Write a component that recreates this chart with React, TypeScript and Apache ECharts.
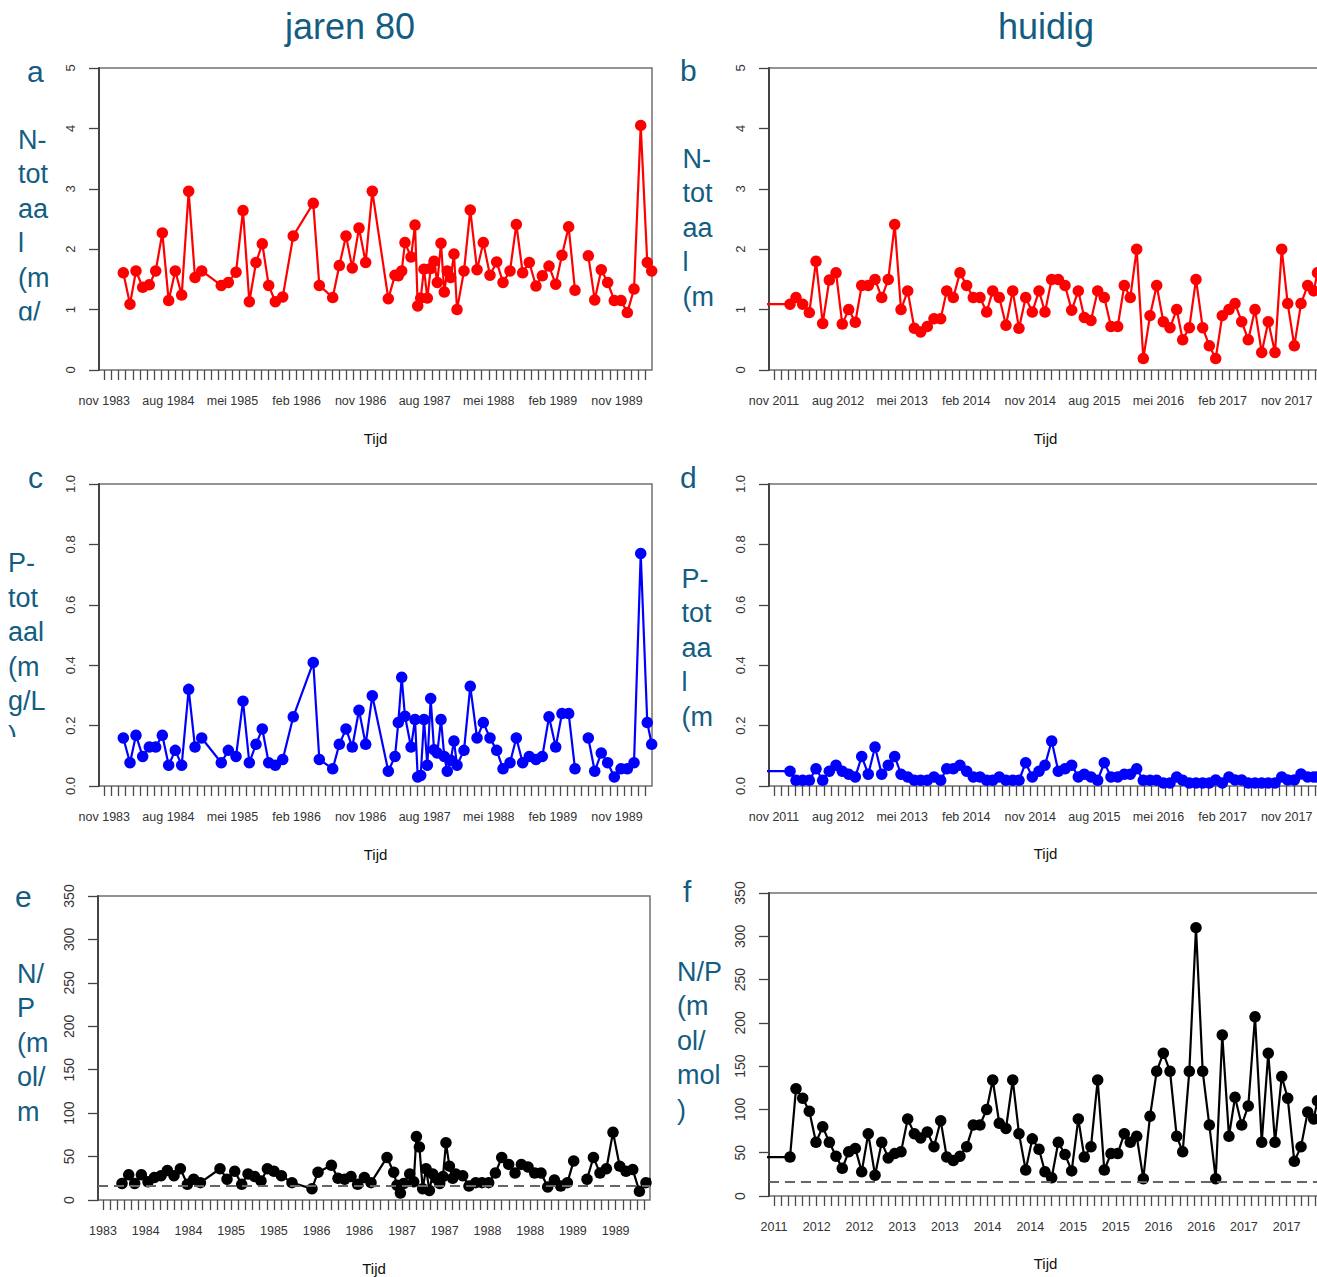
import React, { useEffect, useRef } from "react";
import * as echarts from "echarts";

// ---- Data ----
// Sampling times, in months since November of the first year shown (Nov 1983 / Nov 2011)
const tLeft = [
  2.67, 3.61, 4.45, 5.39, 6.32, 7.22, 8.15, 9.04, 9.97, 10.87,
  11.85, 12.74, 13.68, 16.43, 17.42, 18.5, 19.48, 20.37, 21.31, 22.19,
  23.09, 24.02, 25.06, 26.54, 29.35, 30.2, 32.08, 33.01, 33.95, 34.83,
  35.77, 36.71, 37.64, 39.89, 40.83, 41.29, 41.77, 42.23, 43.08, 43.64,
  44.02, 44.44, 44.9, 45.37, 45.84, 46.31, 46.77, 47.29, 47.75, 48.17,
  48.65, 49.11, 49.54, 50.52, 51.4, 52.35, 53.23, 54.17, 55.11, 56.0,
  56.98, 57.87, 58.76, 59.69, 60.63, 61.52, 62.46, 63.4, 64.28, 65.22,
  66.11, 67.05, 67.98, 68.88, 69.8, 70.7, 71.63, 72.57, 73.46, 74.4, 75.34, 76.26, 76.88,
];
// N-totaal (mg/L), jaren 80 (null = missing sample)
const nTot80 = [
  1.61, 1.09, 1.64, 1.37, 1.41, 1.64, 2.27, 1.15, 1.64, 1.24,
  2.96, 1.53, 1.64, 1.4, 1.45, 1.62, 2.64, 1.13, 1.78, 2.09,
  1.4, 1.13, 1.21, 2.22, 2.76, 1.4, 1.2, 1.73, 2.22, 1.69,
  2.35, 1.78, 2.96, 1.18, 1.57, 1.56, 1.64, 2.11, 1.87, 2.4,
  1.06, 1.19, 1.67, 1.19, 1.68, 1.8, 1.45, 2.1, 1.29, 1.64,
  1.53, 1.92, 1.0, 1.64, 2.65, 1.66, 2.11, 1.57, 1.79, 1.45,
  1.64, 2.41, 1.61, 1.78, 1.39, 1.56, 1.72, 1.42, 1.9, 2.37,
  1.32, null, 1.89, 1.16, 1.66, 1.45, 1.15, 1.15, 0.95, 1.34, 4.05, 1.78, 1.64,
];
// P-totaal (mg/L), jaren 80
const pTot80 = [
  0.159, 0.077, 0.168, 0.098, 0.129, 0.129, 0.168, 0.069, 0.118, 0.069,
  0.32, 0.129, 0.159, 0.077, 0.118, 0.098, 0.281, 0.077, 0.138, 0.189,
  0.077, 0.069, 0.088, 0.229, 0.409, 0.088, 0.057, 0.138, 0.189, 0.129,
  0.251, 0.138, 0.299, 0.049, 0.098, 0.21, 0.36, 0.231, 0.129, 0.22,
  0.03, 0.035, 0.22, 0.069, 0.29, 0.12, 0.109, 0.22, 0.098, 0.049,
  0.085, 0.149, 0.069, 0.118, 0.33, 0.159, 0.21, 0.159, 0.118, 0.057,
  0.077, 0.159, 0.077, 0.098, 0.088, 0.098, 0.229, 0.129, 0.24, 0.24,
  0.057, null, 0.159, 0.049, 0.109, 0.077, 0.03, 0.057, 0.057, 0.077, 0.77, 0.21, 0.138,
];
// N/P (mol/mol), jaren 80
const np80 = [
  19, 29, 19, 29, 21, 26, 28, 34, 28, 36,
  18, 24, 20, 36, 24, 33, 18, 30, 27, 22,
  36, 33, 28, 20, 13, 32, 40, 25, 24, 27,
  18, 26, 20, 49, 32, 17, 8, 19, 30, 21,
  73, 61, 13, 36, 11, 30, 25, 19, 27, 66,
  39, 25, 30, 28, 16, 20, 20, 20, 31, 49,
  41, 31, 41, 38, 31, 31, 15, 23, 16, 20,
  45, null, 24, 49, 31, 36, 78, 39, 33, 35, 10, 20, 25,
];

const tNow = [
  -3, 2.25, 3.09, 4.03, 4.96, 5.9, 6.84, 7.77, 8.71, 9.59, 10.49,
  11.42, 12.32, 13.24, 14.19, 15.13, 16.05, 16.95, 17.84, 18.78, 19.71,
  20.6, 21.53, 22.47, 23.41, 24.26, 25.18, 26.12, 27.06, 27.99, 28.93,
  29.87, 30.72, 31.64, 32.58, 33.53, 34.41, 35.35, 36.28, 37.22, 38.06,
  39.0, 39.93, 40.87, 41.81, 42.74, 43.58, 44.52, 45.46, 46.39, 47.33,
  48.27, 49.2, 50.04, 50.94, 51.87, 52.81, 53.75, 54.68, 55.62, 56.56,
  57.4, 58.33, 59.27, 60.21, 61.14, 62.04, 62.96, 63.9, 64.75, 65.69,
  66.61, 67.56, 68.5, 69.42, 70.37, 71.31, 72.15, 73.08, 74.02, 74.96,
  75.8, 76.33,
];
const nTotNow = [
  1.09,
  1.09, 1.2, 1.09, 0.95, 1.8, 0.77, 1.49, 1.61, 0.76, 1.0,
  0.79, 1.4, 1.4, 1.5, 1.2, 1.5, 2.41, 1.0, 1.31, 0.69,
  0.63, 0.72, 0.85, 0.85, 1.31, 1.2, 1.61, 1.4, 1.2, 1.2,
  0.96, 1.31, 1.2, 0.74, 1.31, 0.69, 1.2, 0.96, 1.31, 0.96,
  1.5, 1.5, 1.4, 0.99, 1.31, 0.87, 0.82, 1.31, 1.2, 0.72,
  0.72, 1.4, 1.2, 2.0, 0.19, 0.9, 1.4, 0.8, 0.7, 1.0,
  0.5, 0.7, 1.5, 0.7, 0.4, 0.19, 0.9, 1.0, 1.1, 0.8,
  0.5, 1.0, 0.29, 0.8, 0.29, 2.0, 1.1, 0.4, 1.1, 1.4,
  1.31, 1.61,
];
const pTotNow = [
  0.049,
  0.049, 0.019, 0.019, 0.019, 0.057, 0.019, 0.049, 0.069, 0.049, 0.039,
  0.03, 0.098, 0.039, 0.129, 0.039, 0.069, 0.098, 0.039, 0.03, 0.019,
  0.019, 0.019, 0.03, 0.019, 0.057, 0.057, 0.069, 0.049, 0.03, 0.03,
  0.019, 0.019, 0.03, 0.019, 0.019, 0.019, 0.077, 0.03, 0.049, 0.069,
  0.149, 0.049, 0.057, 0.069, 0.03, 0.039, 0.03, 0.019, 0.077, 0.03,
  0.03, 0.039, 0.039, 0.057, 0.019, 0.019, 0.019, 0.01, 0.01, 0.03,
  0.019, 0.01, 0.01, 0.01, 0.01, 0.02, 0.01, 0.03, 0.02, 0.02,
  0.01, 0.01, 0.01, 0.01, 0.01, 0.03, 0.02, 0.02, 0.04, 0.03,
  0.03, 0.03,
];
const npNow = [
  45,
  45, 124, 113, 98, 62, 80, 62, 46, 32, 51,
  55, 28, 72, 24, 62, 44, 49, 51, 89, 72,
  67, 74, 57, 87, 45, 41, 46, 57, 82, 82,
  100, 134, 84, 78, 134, 72, 30, 66, 54, 28,
  21, 62, 48, 29, 89, 45, 57, 134, 30, 49,
  49, 72, 62, 69, 20, 92, 144, 165, 144, 69,
  51, 144, 310, 144, 82, 20, 186, 69, 114, 82,
  104, 207, 62, 165, 62, 138, 113, 40, 57, 97,
  89, 110,
];

const redfieldRatio = 16;
const columnTitles = ["jaren 80", "huidig"];
const panelLetters = ["a", "b", "c", "d", "e", "f"];
const yTitleLines = [
  ["N-", "tot", "aa", "l", "(m", "g/"],
  ["N-", "tot", "aa", "l", "(m"],
  ["P-", "tot", "aal", "(m", "g/L", ")"],
  ["P-", "tot", "aa", "l", "(m"],
  ["N/", "P", "(m", "ol/", "m"],
  ["N/P", "(m", "ol/", "mol", ")"],
];
const xTitle = "Tijd";
const monthNames = ["jan", "feb", "mrt", "apr", "mei", "jun", "jul", "aug", "sep", "okt", "nov", "dec"];
const startYears = [1983, 2011];

// ---- Layout / style ----
const FONT = "'Liberation Sans', Arial, Helvetica, sans-serif";
const TEAL = "#135d82";
const PPM = 7.12; // px per month
const N_TICKS = 76;

type PanelCfg = {
  box: [number, number, number, number];
  x0: number;
  t: number[];
  v: (number | null)[];
  color: string;
  yMax: number;
  yStep: number;
  yDec: number;
  yFont: number;
  labelEvery: number;
  yearOnly: boolean;
  startYear: number;
  dashed: boolean;
  letterPos: [number, number];
  titlePos: [number, number];
  tijdPos: [number, number];
};

const panels: PanelCfg[] = [
  { box: [99, 68, 553, 302], x0: 104.3, t: tLeft, v: nTot80, color: "#ff0000", yMax: 5, yStep: 1, yDec: 0, yFont: 13, labelEvery: 9, yearOnly: false, startYear: startYears[0], dashed: false, letterPos: [27, 71.5], titlePos: [18, 139.8], tijdPos: [375.5, 438] },
  { box: [769, 68, 553, 302], x0: 774, t: tNow, v: nTotNow, color: "#ff0000", yMax: 5, yStep: 1, yDec: 0, yFont: 13, labelEvery: 9, yearOnly: false, startYear: startYears[1], dashed: false, letterPos: [680, 70], titlePos: [682.5, 158.8], tijdPos: [1045.5, 438] },
  { box: [99, 484, 553, 302], x0: 104.3, t: tLeft, v: pTot80, color: "#0000ff", yMax: 1, yStep: 0.2, yDec: 1, yFont: 13, labelEvery: 9, yearOnly: false, startYear: startYears[0], dashed: false, letterPos: [28, 477.5], titlePos: [8, 563.2], tijdPos: [375.5, 854] },
  { box: [769, 484, 553, 302], x0: 774, t: tNow, v: pTotNow, color: "#0000ff", yMax: 1, yStep: 0.2, yDec: 1, yFont: 13, labelEvery: 9, yearOnly: false, startYear: startYears[1], dashed: false, letterPos: [680, 477.5], titlePos: [681.5, 578.8], tijdPos: [1045.5, 853] },
  { box: [98, 896, 552, 304], x0: 103, t: tLeft, v: np80, color: "#000000", yMax: 350, yStep: 50, yDec: 0, yFont: 14, labelEvery: 6, yearOnly: true, startYear: startYears[0], dashed: true, letterPos: [15, 896], titlePos: [17, 973.8], tijdPos: [374, 1268] },
  { box: [769, 893, 553, 303], x0: 774, t: tNow, v: npNow, color: "#000000", yMax: 350, yStep: 50, yDec: 0, yFont: 14, labelEvery: 6, yearOnly: true, startYear: startYears[1], dashed: true, letterPos: [683, 891], titlePos: [677, 971.5], tijdPos: [1045.5, 1263] },
];

function buildOption() {
  const grid: any[] = [];
  const xAxis: any[] = [];
  const yAxis: any[] = [];
  const series: any[] = [];
  const graphic: any[] = [];

  panels.forEach((p, i) => {
    const [left, top, width, height] = p.box;
    grid.push({ left, top, width, height, show: true, borderColor: "#707070", borderWidth: 1.5, backgroundColor: "transparent" });
    grid.push({ left: p.x0, top, width: N_TICKS * PPM, height, show: false });

    xAxis.push({
      gridIndex: 2 * i,
      type: "value",
      min: (left - p.x0) / PPM,
      max: (left + width - p.x0) / PPM,
      show: false,
    });
    xAxis.push({
      gridIndex: 2 * i + 1,
      type: "value",
      min: 0,
      max: N_TICKS,
      interval: 1,
      axisLine: { show: false, onZero: false },
      axisTick: { show: true, length: 10, lineStyle: { color: "#4a4a4a", width: 1.3 } },
      splitLine: { show: false },
      axisLabel: {
        show: true,
        margin: 24,
        fontSize: 12.5,
        fontFamily: FONT,
        color: "#333333",
        hideOverlap: false,
        formatter: (val: number) => {
          const m = Math.round(val);
          if (m % p.labelEvery !== 0) return "";
          const mi = (10 + m) % 12;
          const yr = p.startYear + Math.floor((10 + m) / 12);
          return p.yearOnly ? String(yr) : `${monthNames[mi]} ${yr}`;
        },
      },
    });

    yAxis.push({
      gridIndex: 2 * i,
      type: "value",
      min: 0,
      max: p.yMax,
      interval: p.yStep,
      axisLine: { show: true, onZero: false, lineStyle: { color: "#444444", width: 2 } },
      axisTick: { show: true, length: 10, lineStyle: { color: "#444444", width: 1.3 } },
      splitLine: { show: false },
      axisLabel: {
        rotate: 90,
        margin: 22,
        fontSize: p.yFont,
        fontFamily: FONT,
        color: "#333333",
        formatter: (val: number) => val.toFixed(p.yDec),
      },
    });
    yAxis.push({ gridIndex: 2 * i + 1, type: "value", show: false, min: 0, max: 1 });

    const s: any = {
      type: "line",
      xAxisIndex: 2 * i,
      yAxisIndex: 2 * i,
      data: p.t.map((t, k) => [t, p.v[k] == null ? "-" : p.v[k]]),
      symbol: "circle",
      symbolSize: 11.5,
      showSymbol: true,
      clip: true,
      silent: true,
      lineStyle: { color: p.color, width: 2.2 },
      itemStyle: { color: p.color },
      z: 3,
    };
    if (p.dashed) {
      s.markLine = {
        silent: true,
        symbol: ["none", "none"],
        label: { show: false },
        lineStyle: { color: "#666666", type: [10, 6], width: 2 },
        data: [{ yAxis: redfieldRatio }],
      };
    }
    series.push(s);

    // panel letter
    graphic.push({
      type: "text",
      x: p.letterPos[0],
      y: p.letterPos[1],
      style: { text: panelLetters[i], font: `30px ${FONT}`, fill: TEAL, align: "left", verticalAlign: "middle" },
      z: 5,
    });
    // y title lines
    yTitleLines[i].forEach((line, k) => {
      graphic.push({
        type: "text",
        x: p.titlePos[0],
        y: p.titlePos[1] + k * 34.5,
        style: { text: line, font: `27px ${FONT}`, fill: TEAL, align: "left", verticalAlign: "middle" },
        z: 5,
      });
    });
    // x title
    graphic.push({
      type: "text",
      x: p.tijdPos[0],
      y: p.tijdPos[1],
      style: { text: xTitle, font: `15px ${FONT}`, fill: "#111111", align: "center", verticalAlign: "middle" },
      z: 5,
    });
  });

  // clipped label ends (the source figure crops these lines)
  graphic.push({ type: "rect", shape: { x: 4, y: 320.5, width: 58, height: 24 }, style: { fill: "#ffffff" }, z: 20 });
  graphic.push({ type: "rect", shape: { x: 0, y: 737, width: 45, height: 24 }, style: { fill: "#ffffff" }, z: 20 });

  // column titles
  graphic.push({
    type: "text", x: 350, y: 26.7,
    style: { text: columnTitles[0], font: `36px ${FONT}`, fill: TEAL, align: "center", verticalAlign: "middle" }, z: 5,
  });
  graphic.push({
    type: "text", x: 1046, y: 26.7,
    style: { text: columnTitles[1], font: `36px ${FONT}`, fill: TEAL, align: "center", verticalAlign: "middle" }, z: 5,
  });

  return {
    animation: false,
    backgroundColor: "#ffffff",
    grid,
    xAxis,
    yAxis,
    series,
    graphic,
  };
}

export default function App() {
  const ref = useRef<HTMLDivElement>(null);
  useEffect(() => {
    if (!ref.current) return;
    const chart = echarts.init(ref.current, undefined, { renderer: "svg" });
    chart.setOption(buildOption());
    return () => chart.dispose();
  }, []);
  return (
    <div style={{ position: "fixed", left: 0, top: 0, width: 1317, height: 1277, overflow: "hidden", background: "#ffffff" }}>
      <div ref={ref} style={{ width: 1400, height: 1277 }} />
    </div>
  );
}
